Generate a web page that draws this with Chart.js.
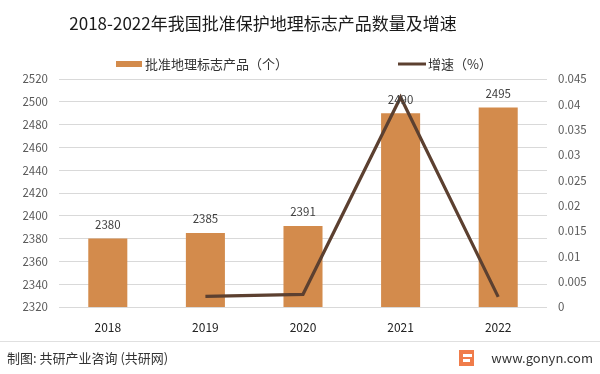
<!DOCTYPE html>
<html>
<head>
<meta charset="utf-8">
<script src="https://cdn.jsdelivr.net/npm/chart.js@4.4.1/dist/chart.umd.min.js"></script>
<style>
  html, body { margin: 0; padding: 0; background: #fff; }
  #wrap { width: 600px; height: 374px; position: relative; }
</style>
</head>
<body>
<div id="wrap"><canvas id="chartId" width="600" height="374"></canvas></div>
<script>
const years = ['2018', '2019', '2020', '2021', '2022'];
const counts = [2380, 2385, 2391, 2490, 2495];
const growth = [null, 0.0021, 0.0025, 0.0414, 0.0020];
const leftTicks = { min: 2320, max: 2520, step: 20 };
const rightTicks = { min: 0, max: 0.045, step: 0.005 };

const titleText = '2018-2022年我国批准保护地理标志产品数量及增速';
const barName = '批准地理标志产品（个）';
const lineName = '增速（%）';
const barColor = '#d38b4c';
const lineColor = '#5c4030';

const fontCJK = '"Noto Sans CJK SC", "Noto Sans", sans-serif';

// value labels above bars
const barLabels = {
  id: 'barLabels',
  afterDatasetsDraw(chart) {
    const ctx = chart.ctx;
    const meta = chart.getDatasetMeta(0);
    ctx.save();
    ctx.font = '11.5px ' + fontCJK;
    ctx.fillStyle = '#404040';
    ctx.textAlign = 'center';
    ctx.textBaseline = 'middle';
    meta.data.forEach((bar, i) => {
      ctx.fillText(counts[i], bar.x, bar.y - 14);
    });
    ctx.restore();
  }
};

// title, legend, footer
const decor = {
  id: 'decor',
  afterDraw(chart) {
    const ctx = chart.ctx;
    ctx.save();
    // title
    ctx.font = '17px ' + fontCJK;
    ctx.fillStyle = '#1a1a1a';
    ctx.textAlign = 'center';
    ctx.textBaseline = 'middle';
    ctx.fillText(titleText, 263, 24);

    // legend
    ctx.font = '13px ' + fontCJK;
    ctx.textAlign = 'left';
    ctx.fillStyle = barColor;
    ctx.fillRect(116, 61, 26, 6);
    ctx.fillStyle = '#333';
    ctx.fillText(barName, 145, 64);
    ctx.strokeStyle = lineColor;
    ctx.lineWidth = 3;
    ctx.beginPath();
    ctx.moveTo(398, 64);
    ctx.lineTo(426, 64);
    ctx.stroke();
    ctx.fillText(lineName, 428, 64);

    // footer
    ctx.strokeStyle = '#e0e0e0';
    ctx.lineWidth = 1;
    ctx.beginPath();
    ctx.moveTo(0, 341.5);
    ctx.lineTo(600, 341.5);
    ctx.stroke();
    ctx.font = '13px ' + fontCJK;
    ctx.fillStyle = '#333';
    ctx.fillText('制图: 共研产业咨询 (共研网)', 7, 358);
    ctx.textAlign = 'right';
    ctx.fillText('www.gonyn.com', 593, 358);
    // small logo
    ctx.fillStyle = '#f07c4a';
    ctx.fillRect(459, 350, 15, 16);
    ctx.fillStyle = '#fff';
    ctx.fillRect(463, 354, 9, 3);
    ctx.fillRect(463, 359, 7, 3);
    ctx.restore();
  }
};

const chrt = document.getElementById('chartId').getContext('2d');
new Chart(chrt, {
  data: {
    labels: years,
    datasets: [{
      type: 'bar',
      label: barName,
      data: counts,
      backgroundColor: barColor,
      yAxisID: 'y',
      barPercentage: 0.4,
      categoryPercentage: 1,
      order: 2
    }, {
      type: 'line',
      label: lineName,
      data: growth,
      borderColor: lineColor,
      backgroundColor: lineColor,
      borderWidth: 3.2,
      pointRadius: 0,
      yAxisID: 'y1',
      order: 1
    }]
  },
  options: {
    responsive: false,
    animation: false,
    layout: { padding: { left: 0, right: 0, top: 79, bottom: 33 } },
    plugins: {
      title: { display: false },
      legend: { display: false },
      tooltip: { enabled: false }
    },
    scales: {
      x: {
        grid: { display: false },
        border: { display: false },
        ticks: { color: '#222', font: { size: 12, family: fontCJK }, padding: 5 },
        afterFit: s => { s.height = 34; }
      },
      y: {
        position: 'left',
        min: leftTicks.min,
        max: leftTicks.max,
        afterFit: s => { s.width = 59; },
        ticks: {
          stepSize: leftTicks.step,
          color: '#595959',
          font: { size: 11.5, family: fontCJK },
          padding: 11,
          callback: v => String(v)
        },
        grid: { color: '#d9d9d9', drawTicks: false },
        border: { display: false }
      },
      y1: {
        position: 'right',
        min: rightTicks.min,
        max: rightTicks.max,
        afterFit: s => { s.width = 53; },
        ticks: {
          stepSize: rightTicks.step,
          color: '#595959',
          font: { size: 11.5, family: fontCJK },
          padding: 11,
          callback: v => String(Number(v.toFixed(3)))
        },
        grid: { display: false, drawTicks: false },
        border: { display: false }
      }
    }
  },
  plugins: [barLabels, decor]
});
</script>
</body>
</html>
